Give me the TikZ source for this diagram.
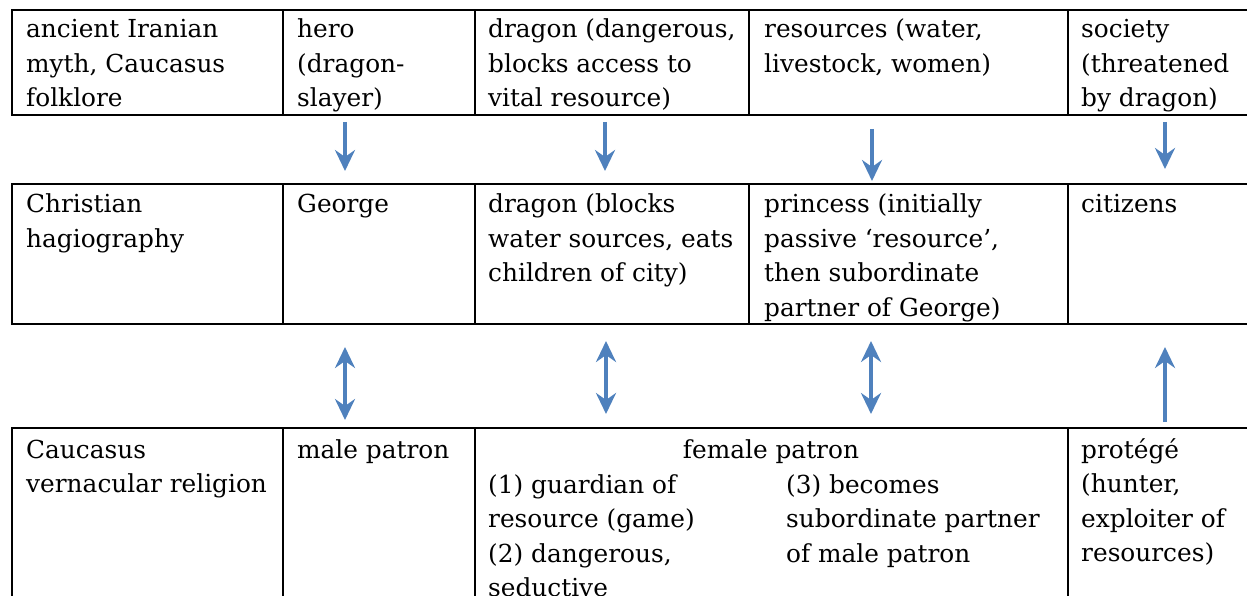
\documentclass[tikz,border=0pt]{standalone}
\usepackage{fontspec}
\setmainfont{DejaVu Serif}
\usetikzlibrary{arrows.meta}
\definecolor{arrowblue}{RGB}{79,129,189}
\newcommand\celltext[1]{\parbox[t]{330pt}{\raggedright #1}}
\begin{document}
\begin{tikzpicture}[x=1pt,y=-1pt,
  grid/.style={line width=1.9pt, black},
  txt/.style={anchor=base west, inner sep=0pt, font=\fontsize{24.8}{34.5}\selectfont},
  tipstyle/.style={},
  arr/.style={arrowblue, line width=4.6pt, -{Stealth[length=21pt,width=20pt,inset=7pt]}},
  darr/.style={arrowblue, line width=4.6pt, {Stealth[length=21pt,width=20pt,inset=7pt]}-{Stealth[length=21pt,width=20pt,inset=7pt]}}]
\useasboundingbox (0,0) rectangle (1247,596);

% ---- table 1 ----
\draw[grid] (12,10) rectangle (1262,115);
\foreach \x in {283,475,749,1068} \draw[grid] (\x,10) -- (\x,115);
% ---- table 2 ----
\draw[grid] (12,184) rectangle (1262,324);
\foreach \x in {283,475,749,1068} \draw[grid] (\x,184) -- (\x,324);
% ---- table 3 ----
\draw[grid] (12,428) rectangle (1262,620);
\foreach \x in {283,475,1068} \draw[grid] (\x,428) -- (\x,620);

% ---- texts row 1 ----
\node[txt] (r1a) at (26,38) {\celltext{ancient Iranian\\myth, Caucasus\\folklore}};
\node[txt] (r1b) at (297,38) {\celltext{hero\\(dragon-\\slayer)}};
\node[txt] (r1c) at (488,38) {\celltext{dragon (dangerous,\\blocks access to\\vital resource)}};
\node[txt] (r1d) at (764,38) {\celltext{resources (water,\\livestock, women)}};
\node[txt] (r1e) at (1081,38) {\celltext{society\\(threatened\\by dragon)}};

% ---- texts row 2 ----
\node[txt] (r2a) at (26,213) {\celltext{Christian\\hagiography}};
\node[txt] (r2b) at (297,213) {\celltext{George}};
\node[txt] (r2c) at (488,213) {\celltext{dragon (blocks\\water sources, eats\\children of city)}};
\node[txt] (r2d) at (764,213) {\celltext{princess (initially\\passive ‘resource’,\\then subordinate\\partner of George)}};
\node[txt] (r2e) at (1081,213) {\celltext{citizens}};

% ---- texts row 3 ----
\node[txt] (r3a) at (26,458) {\celltext{Caucasus\\vernacular religion}};
\node[txt] (r3b) at (297,458) {\celltext{male patron}};
\node[txt, anchor=base] (r3c) at (771,458) {female patron};
\node[txt] (r3c1) at (488,493) {\celltext{(1) guardian of\\resource (game)\\(2) dangerous,\\seductive}};
\node[txt] (r3c2) at (786,493) {\celltext{(3) becomes\\subordinate partner\\of male patron}};
\node[txt] (r3e) at (1081,458) {\celltext{protégé\\(hunter,\\exploiter of\\resources)}};

% ---- arrow end points ----
\coordinate (d1s) at (345,122);  \coordinate (d1e) at (345,171);
\coordinate (d2s) at (605,122);  \coordinate (d2e) at (605,171);
\coordinate (d3s) at (872,129);  \coordinate (d3e) at (872,181);
\coordinate (d4s) at (1165,122); \coordinate (d4e) at (1165,169);
\coordinate (b1s) at (345,347);  \coordinate (b1e) at (345,420);
\coordinate (b2s) at (606,341);  \coordinate (b2e) at (606,414);
\coordinate (b3s) at (871,341);  \coordinate (b3e) at (871,414);
\coordinate (u4s) at (1165,422); \coordinate (u4e) at (1165,347);

\draw[arr] (d1s) -- (d1e);
\draw[arr] (d2s) -- (d2e);
\draw[arr] (d3s) -- (d3e);
\draw[arr] (d4s) -- (d4e);
\draw[darr] (b1s) -- (b1e);
\draw[darr] (b2s) -- (b2e);
\draw[darr] (b3s) -- (b3e);
\draw[arr] (u4s) -- (u4e);
\end{tikzpicture}
\end{document}
